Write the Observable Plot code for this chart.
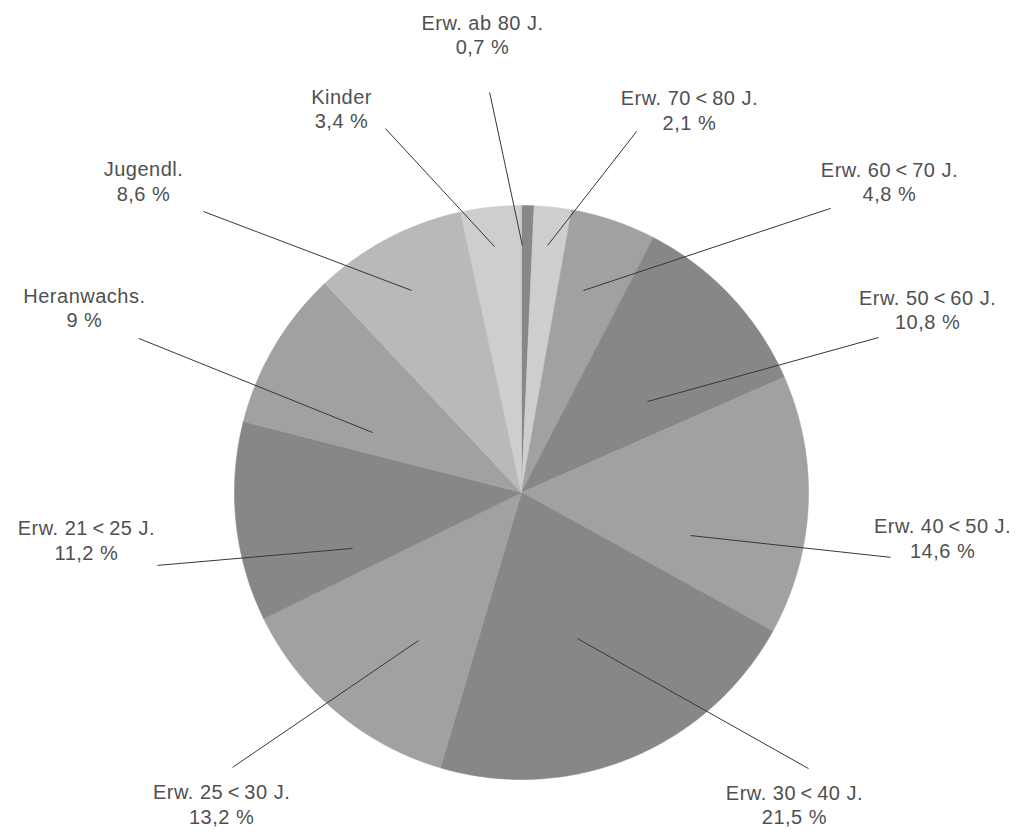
<!DOCTYPE html>
<html>
<head>
<meta charset="utf-8">
<script src="https://cdn.jsdelivr.net/npm/d3@7"></script>
<script src="https://cdn.jsdelivr.net/npm/@observablehq/plot@0.6"></script>
<style>
  html, body { margin: 0; padding: 0; background: #ffffff; }
  #chart svg { display: block; }
</style>
</head>
<body>
<div id="chart"></div>
<script>
// ---- data (clockwise from 12 o'clock) ----
const categories = [
  "Erw. ab 80 J.",
  "Erw. 70\u2009<\u200980 J.",
  "Erw. 60\u2009<\u200970 J.",
  "Erw. 50\u2009<\u200960 J.",
  "Erw. 40\u2009<\u200950 J.",
  "Erw. 30\u2009<\u200940 J.",
  "Erw. 25\u2009<\u200930 J.",
  "Erw. 21\u2009<\u200925 J.",
  "Heranwachs.",
  "Jugendl.",
  "Kinder"
];
const shares = [0.7, 2.1, 4.8, 10.8, 14.6, 21.5, 13.2, 11.2, 9, 8.6, 3.4];
const shareLabels = ["0,7 %", "2,1 %", "4,8 %", "10,8 %", "14,6 %", "21,5 %", "13,2 %", "11,2 %", "9 %", "8,6 %", "3,4 %"];
const sliceTones = ["#878888", "#cdcecd", "#a0a1a0", "#878787", "#a0a1a0", "#878787", "#a0a1a0", "#878787", "#a0a1a0", "#b8b9b8", "#cdcecd"];

// ---- annotation layout, in pie-radius units (origin = pie centre) ----
const labelAt  = [[-0.136, 1.596], [0.585, 1.334], [1.282, 1.084], [1.415, 0.638], [1.467, -0.157], [0.951, -1.087],
                  [-1.045, -1.084], [-1.516, -0.164], [-1.523, 0.645], [-1.317, 1.087], [-0.627, 1.338]];
const leaderOuter = [[-0.111, 1.394], [0.401, 1.258], [1.077, 0.990], [1.244, 0.540], [1.286, -0.226], [1.000, -0.962],
                     [-1.007, -0.958], [-1.268, -0.254], [-1.334, 0.537], [-1.108, 0.979], [-0.474, 1.268]];
const leaderInner = [[0.003, 0.861], [0.091, 0.861], [0.216, 0.704], [0.439, 0.317], [0.589, -0.150], [0.195, -0.509],
                     [-0.359, -0.516], [-0.589, -0.195], [-0.519, 0.209], [-0.383, 0.704], [-0.094, 0.857]];
const view = {left: -1.8153, right: 1.7282, bottom: -1.1847, top: 1.7143};

// ---- build slice outlines from the shares ----
const total = d3.sum(shares);
const slicePts = [];
let acc = 0;
shares.forEach((v, i) => {
  const a0 = acc / total * 2 * Math.PI;
  acc += v;
  const a1 = acc / total * 2 * Math.PI;
  const n = Math.max(2, Math.ceil((a1 - a0) / (Math.PI / 360)));
  slicePts.push({slice: i, tone: sliceTones[i], x: 0, y: 0});
  for (let k = 0; k <= n; k++) {
    const a = a0 + (a1 - a0) * k / n;
    slicePts.push({slice: i, tone: sliceTones[i], x: Math.sin(a), y: Math.cos(a)});
  }
  slicePts.push({slice: i, tone: sliceTones[i], x: 0, y: 0});
});

const labels = categories.map((c, i) => ({
  text: c + "\n" + shareLabels[i],
  x: labelAt[i][0], y: labelAt[i][1],
  x1: leaderInner[i][0], y1: leaderInner[i][1],
  x2: leaderOuter[i][0], y2: leaderOuter[i][1]
}));

const chart = Plot.plot({
  width: 1017,
  height: 832,
  margin: 0,
  style: {letterSpacing: "0.5px"},
  x: {domain: [view.left, view.right], axis: null},
  y: {domain: [view.bottom, view.top], axis: null},
  color: {type: "identity"},
  marks: [
    Plot.line(slicePts, {
      x: "x", y: "y", z: "slice",
      fill: "tone", stroke: "tone", strokeWidth: 0.6,
      curve: "linear"
    }),
    Plot.link(labels, {
      x1: "x1", y1: "y1", x2: "x2", y2: "y2",
      stroke: "#383838", strokeWidth: 1
    }),
    Plot.text(labels, {
      x: "x", y: "y", text: "text",
      textAnchor: "middle", lineAnchor: "middle", lineHeight: 1.22,
      fontSize: 20, fill: "#505050",
      fontFamily: "'Liberation Sans', Arial, Helvetica, sans-serif"
    })
  ]
});
document.getElementById("chart").appendChild(chart);
</script>
</body>
</html>
